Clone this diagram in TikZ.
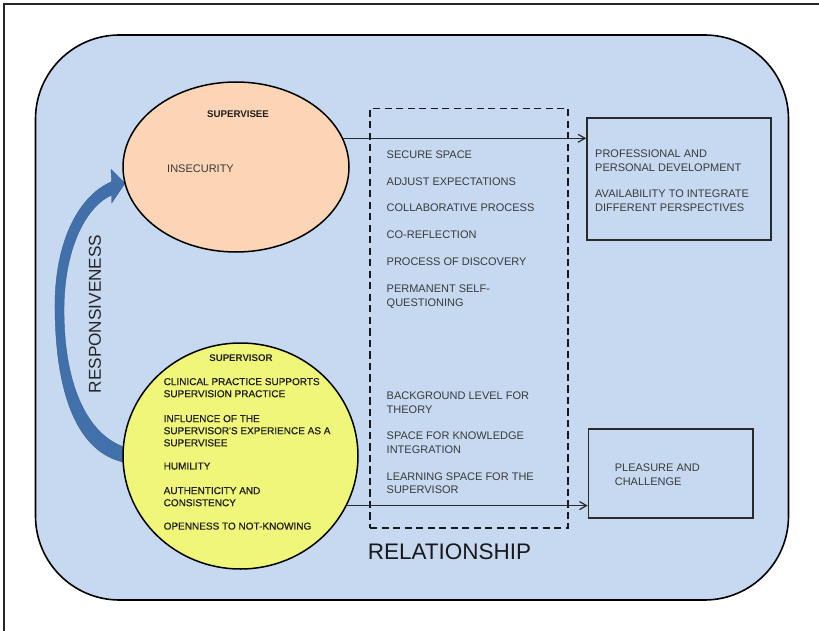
\documentclass[tikz,border=0pt]{standalone}
\usepackage{fontspec}
\setmainfont{Liberation Sans}
\newfontfamily\heavyfont[FakeBold=0.6]{Liberation Sans}
\usetikzlibrary{shapes.geometric,arrows.meta}
\definecolor{bgblue}{HTML}{C6D9F1}
\definecolor{peach}{HTML}{FBD5B5}
\definecolor{lemon}{HTML}{EFF67A}
\definecolor{arrowblue}{HTML}{4270AA}
\definecolor{txtgray}{HTML}{3A3A3A}
\definecolor{linegray}{HTML}{2A2A2A}
\tikzset{
  listtxt/.style={font=\fontsize{11}{13.4}\selectfont, text=txtgray, inner sep=0pt, align=left, anchor=north west},
  sortxt/.style={font=\heavyfont\fontsize{10}{12.1}\selectfont, text=black!88, inner sep=0pt, align=left, anchor=north west},
  titletxt/.style={font=\bfseries\fontsize{9.7}{11}\selectfont, text=black!88, inner sep=0pt},
  bubble/.style={ellipse, draw=black, line width=1.5pt, inner sep=0pt},
  outbox/.style={draw=linegray, line width=1.6pt, inner sep=0pt},
  conn/.style={draw=linegray, line width=1.4pt, -{Straight Barb[length=7pt,width=8pt,line width=1.2pt]}}
}
\begin{document}
\begin{tikzpicture}[x=1pt,y=-1pt]
\useasboundingbox (0,0) rectangle (819,631);
\fill[white] (0,0) rectangle (819,631);
\draw[line width=1.2pt, black!85] (4,631) -- (4,4) -- (819,4);

% background
\node[draw=black, fill=bgblue, line width=1.6pt, rounded corners=84pt,
      minimum width=753pt, minimum height=565pt, inner sep=0pt] (bg) at (412,317.5) {};

% dashed relationship box
\node[draw=black!90, dash pattern=on 7.3pt off 4.2pt, line width=1.8pt,
      minimum width=198pt, minimum height=419.4pt, inner sep=0pt] (rel) at (469,318.3) {};

% responsiveness arrow (shape)
\fill[arrowblue, draw=arrowblue!85!black, line width=0.4pt]
  (128,463) -- (123,462) .. controls (80,452) and (56,400) .. (55,310)
  .. controls (54,240) and (80,195) .. (111.7,181.7)
  -- (111,169.5) -- (125,183.3) -- (111.7,203) -- (111.7,195)
  .. controls (85,207) and (64,250) .. (64,310)
  .. controls (64,390) and (90,435) .. (123.3,446.7) -- (128,446) -- cycle;

% ellipses
\node[bubble, fill=peach, minimum width=226pt, minimum height=170pt] (see) at (236,167) {};
\node[bubble, fill=lemon, minimum width=235pt, minimum height=226pt] (sor) at (240.5,456) {};

% outcome boxes
\node[outbox, minimum width=184pt, minimum height=122pt] (out1) at (679,179) {};
\node[outbox, minimum width=164.5pt, minimum height=89pt] (out2) at (670.75,473.5) {};

% connectors
\draw[conn] (see.15) -- (see.15 -| out1.west);
\draw[conn] (sor.-25.4) -- (sor.-25.4 -| out2.west);

% supervisee texts
\node[titletxt] (seetitle) at (238,114) {SUPERVISEE};
\node[listtxt] (insec) at (167,164.7) {INSECURITY};

% supervisor texts
\node[titletxt] (sortitle) at (241,358) {SUPERVISOR};
\node[sortxt] (s1) at (163.5,377.9) {CLINICAL PRACTICE SUPPORTS\\SUPERVISION PRACTICE};
\node[sortxt] (s2) at (163.5,414.9) {INFLUENCE OF THE\\SUPERVISOR'S EXPERIENCE AS A\\SUPERVISEE};
\node[sortxt] (s3) at (163.5,462.4) {HUMILITY};
\node[sortxt] (s4) at (163.5,486.9) {AUTHENTICITY AND\\CONSISTENCY};
\node[sortxt] (s5) at (163.5,522.4) {OPENNESS TO NOT-KNOWING};

% relationship items
\node[listtxt] (r1) at (386.5,150.6) {SECURE SPACE};
\node[listtxt] (r2) at (386.5,177.6) {ADJUST EXPECTATIONS};
\node[listtxt] (r3) at (386.5,204.1) {COLLABORATIVE PROCESS};
\node[listtxt] (r4) at (386.5,231.1) {CO-REFLECTION};
\node[listtxt] (r5) at (386.5,258.1) {PROCESS OF DISCOVERY};
\node[listtxt] (r6) at (386.5,285.1) {PERMANENT SELF-\\QUESTIONING};
\node[listtxt] (r7) at (386.5,392.1) {BACKGROUND LEVEL FOR\\THEORY};
\node[listtxt] (r8) at (386.5,432.1) {SPACE FOR KNOWLEDGE\\INTEGRATION};
\node[listtxt] (r9) at (386.5,472.6) {LEARNING SPACE FOR THE\\SUPERVISOR};

% outcome texts
\node[listtxt] (o1) at (595,150.1) {PROFESSIONAL AND\\PERSONAL DEVELOPMENT};
\node[listtxt] (o2) at (595,190.1) {AVAILABILITY TO INTEGRATE\\DIFFERENT PERSPECTIVES};
\node[listtxt] (o3) at (614.6,464.1) {PLEASURE AND\\CHALLENGE};

% big labels
\node[font=\fontsize{22.5}{26}\selectfont, text=black!90, inner sep=0pt, anchor=west] (relabel) at (367.6,552) {RELATIONSHIP};
\node[font=\fontsize{17.2}{20}\selectfont, text=black!85, inner sep=0pt, rotate=90] (resp) at (95,314) {RESPONSIVENESS};
\end{tikzpicture}
\end{document}
